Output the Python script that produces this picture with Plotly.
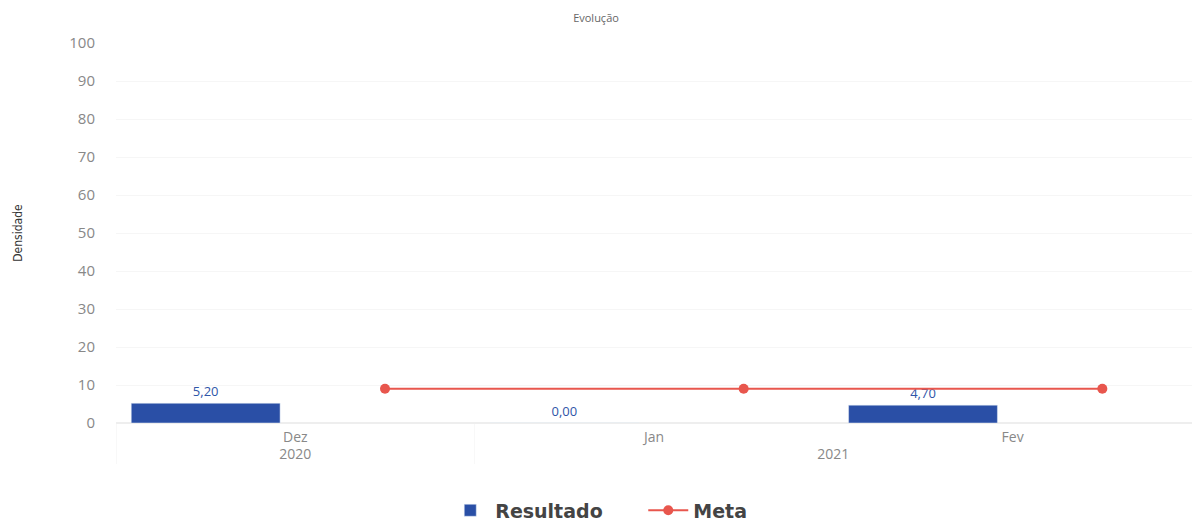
import plotly.graph_objects as go

years = ["2020", "2021", "2021"]
months = ["Dez", "Jan", "Fev"]
resultado = [5.20, 0.00, 4.70]
meta = [9.0, 9.0, 9.0]
y_ticks = [0, 10, 20, 30, 40, 50, 60, 70, 80, 90, 100]

fig = go.Figure()
fig.add_trace(go.Bar(
    x=[years, months], y=resultado, name="Resultado",
    marker=dict(color="#2a4fa6"), offsetgroup="r",
    texttemplate="%{y:.2f}", textposition="outside",
    textfont=dict(color="#2f55a8", size=13, family="Open Sans"),
    cliponaxis=False,
))
fig.add_trace(go.Scatter(
    x=[years, months], y=meta, name="Meta", mode="lines+markers",
    line=dict(color="#e8564d", width=2), marker=dict(color="#e8564d", size=10),
    offsetgroup="m",
))
fig.update_layout(
    width=1192, height=521,
    paper_bgcolor="white", plot_bgcolor="white",
    margin=dict(l=116, r=0, t=43, b=98, autoexpand=False),
    barmode="group", scattermode="group", bargap=0.0, bargroupgap=0.17,
    separators=",.",
    title=dict(text="Evolução", x=0.5, xanchor="center", y=0.965, yanchor="middle",
               font=dict(size=11, color="#666", family="Open Sans")),
    font=dict(family="Open Sans", color="#888"),
    legend=dict(orientation="h", x=0.306, xanchor="left", y=-0.18, yanchor="top",
                font=dict(family="DejaVu Sans", size=19, color="#444", weight="bold"),
                itemwidth=40, entrywidth=143, entrywidthmode="pixels"),
    showlegend=True,
)
fig.update_xaxes(
    tickfont=dict(size=14, color="#888"), showgrid=False, showdividers=True,
    dividercolor="#f8f8f8", showline=False, zeroline=False,
    ticklabelstandoff=4, automargin=False,
)
fig.update_yaxes(
    range=[0, 100], tickvals=y_ticks, tickfont=dict(size=15, color="#888"),
    gridcolor="#f6f6f6", zeroline=True, zerolinecolor="#eeeeee",
    title=dict(text="Densidade",
               font=dict(size=12, color="#333", family="DejaVu Sans Condensed, Roboto"),
               standoff=44),
    ticklabelstandoff=20, automargin=False,
)
fig.write_html("out.html", config={"displayModeBar": False},
               post_script="document.body.style.margin='0';")
